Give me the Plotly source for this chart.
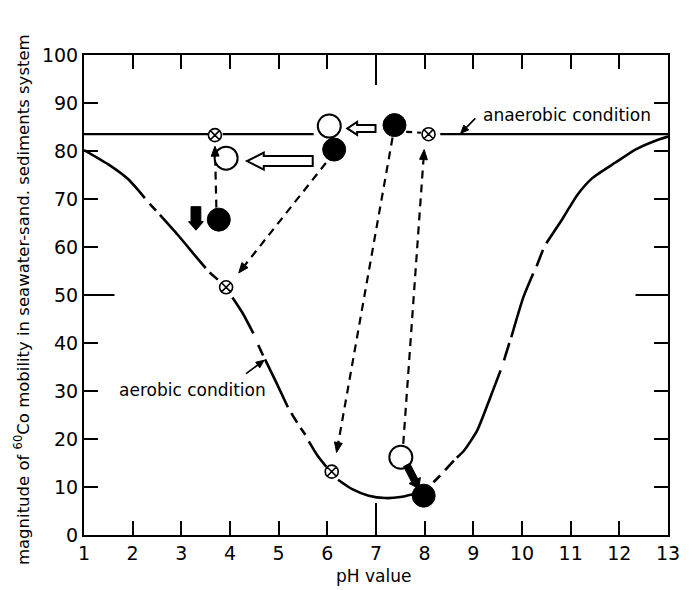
import plotly.graph_objects as go
import math

# ---------------- data ----------------
x_ticks = list(range(1, 14))
y_ticks = list(range(0, 101, 10))
long_tick_x = 7
long_tick_y = 50

# aerobic condition curve (None = break in the hand-drawn line)
aer_ph = [1.0, 1.5, 1.91, 2.25, None,
          2.35, 2.48, None,
          2.56, 2.93, 3.3, 3.5, None,
          3.58, 3.75, None,
          4.05, 4.25, 4.48, None,
          4.58, 4.68, None,
          4.72, 4.96, 5.19, None,
          5.26, 5.38, None,
          5.45, 5.55, None,
          5.62, 5.80, 5.98, None,
          6.22, 6.5, 6.85, 7.19, 7.5, 7.76, None,
          8.18, 8.32, None,
          8.42, 8.6, None,
          8.66, 8.81, 9.08, 9.35, 9.56, None,
          9.63, 9.74, None,
          9.78, 10.03, 10.23, None,
          10.3, 10.43, None,
          10.5, 10.84, 11.14, 11.45, 11.92, 12.33, 12.73, 13.0]
aer_v = [80.2, 77.2, 74.1, 70.2, None,
         69.0, 67.6, None,
         66.7, 62.5, 58.0, 55.6, None,
         54.7, 53.2, None,
         49.5, 46.4, 42.0, None,
         39.6, 37.4, None,
         36.6, 31.6, 26.6, None,
         25.4, 23.4, None,
         22.3, 20.9, None,
         19.5, 16.5, 14.2, None,
         11.5, 9.6, 8.2, 7.7, 7.9, 8.5, None,
         11.0, 12.4, None,
         13.5, 15.5, None,
         16.1, 17.6, 21.8, 28.7, 34.3, None,
         36.4, 40.0, None,
         41.2, 49.6, 54.5, None,
         56.0, 59.4, None,
         60.8, 66.0, 70.9, 74.4, 77.6, 80.3, 82.1, 83.0]

# anaerobic condition line
anaer_ph = [1.0, 3.55, None, 3.85, 5.72, None, 8.32, 13.0]
anaer_v = [83.5, 83.5, None, 83.5, 83.5, None, 83.5, 83.5]
anaer_dash_ph = [7.62, 7.93]
anaer_dash_v = [84.0, 83.8]

# symbols
open_ph = [3.92, 6.04, 7.51]
open_v = [78.5, 85.2, 16.2]
filled_ph = [3.77, 6.14, 7.38, 7.98]
filled_v = [65.7, 80.3, 85.4, 8.2]
cross_ph = [3.69, 3.92, 8.08, 6.09]
cross_v = [83.3, 51.6, 83.5, 13.2]

# dashed arrows (start -> arrow tip)
dash_from_ph = [3.72, 5.97, 7.34, 7.56]
dash_from_v = [68.2, 77.5, 82.8, 19.0]
dash_to_ph = [3.69, 4.18, 6.19, 7.99]
dash_to_v = [81.0, 54.6, 17.2, 80.3]

# hollow block arrows (tail -> tip)
hollow_tail_ph = [5.70, 6.99]
hollow_tail_v = [77.9, 84.7]
hollow_tip_ph = [4.35, 6.41]
hollow_tip_v = [77.9, 84.7]

# solid black arrows (tail -> tip)
black_tail_ph = [3.30, 7.63]
black_tail_v = [68.4, 14.6]
black_tip_ph = [3.30, 7.88]
black_tip_v = [63.5, 9.7]

# labels and their leader arrows (tail -> tip)
label_text = ["aerobic condition", "anaerobic condition"]
label_ph = [3.23, 10.92]
label_v = [30.2, 87.6]
leader_tail_ph = [4.33, 9.04]
leader_tail_v = [33.6, 86.8]
leader_tip_ph = [4.70, 8.74]
leader_tip_v = [36.4, 83.7]

# ---------------- layout geometry ----------------
W, H = 692, 590
ML, MR, MT, MB = 84, 14, 55, 55
PW, PH = W - ML - MR, H - MT - MB
XR = (1, 13)
YR = (0, 100)
SX = PW / (XR[1] - XR[0])   # px per pH unit
SY = PH / (YR[1] - YR[0])   # px per y unit
FONT = "DejaVu Sans"


def to_pix(x, y):
    return x * SX, y * SY


def to_data(X, Y):
    return X / SX, Y / SY


def block_arrow_path(tail, tip, shaft_w, head_w, head_len):
    tx, ty = to_pix(*tail)
    hx, hy = to_pix(*tip)
    dx, dy = hx - tx, hy - ty
    L = math.hypot(dx, dy)
    ux, uy = dx / L, dy / L
    nx, ny = -uy, ux
    bx, by = hx - ux * head_len, hy - uy * head_len
    pts = [
        (tx + nx * shaft_w / 2, ty + ny * shaft_w / 2),
        (bx + nx * shaft_w / 2, by + ny * shaft_w / 2),
        (bx + nx * head_w / 2, by + ny * head_w / 2),
        (hx, hy),
        (bx - nx * head_w / 2, by - ny * head_w / 2),
        (bx - nx * shaft_w / 2, by - ny * shaft_w / 2),
        (tx - nx * shaft_w / 2, ty - ny * shaft_w / 2),
    ]
    d = [to_data(*p) for p in pts]
    return "M " + " L ".join(f"{a:.4f},{b:.4f}" for a, b in d) + " Z"


def head_path(tail, tip, head_w, head_len):
    tx, ty = to_pix(*tail)
    hx, hy = to_pix(*tip)
    dx, dy = hx - tx, hy - ty
    L = math.hypot(dx, dy)
    ux, uy = dx / L, dy / L
    nx, ny = -uy, ux
    bx, by = hx - ux * head_len, hy - uy * head_len
    pts = [(hx, hy), (bx + nx * head_w / 2, by + ny * head_w / 2),
           (bx - nx * head_w / 2, by - ny * head_w / 2)]
    d = [to_data(*p) for p in pts]
    base = to_data(bx, by)
    return "M " + " L ".join(f"{a:.4f},{b:.4f}" for a, b in d) + " Z", base


fig = go.Figure()
shapes = []

# aerobic curve
fig.add_trace(go.Scatter(x=aer_ph, y=aer_v, mode="lines", connectgaps=False,
                         line=dict(color="black", width=2.6, shape="spline", smoothing=0.6),
                         hoverinfo="skip", showlegend=False))
# anaerobic line
fig.add_trace(go.Scatter(x=anaer_ph, y=anaer_v, mode="lines", connectgaps=False,
                         line=dict(color="black", width=2.2),
                         hoverinfo="skip", showlegend=False))
fig.add_trace(go.Scatter(x=anaer_dash_ph, y=anaer_dash_v, mode="lines",
                         line=dict(color="black", width=2.2, dash="6px,5px"),
                         hoverinfo="skip", showlegend=False))

# dashed arrows
HEAD_LEN, HEAD_W = 10, 8
for x0, y0, x1, y1 in zip(dash_from_ph, dash_from_v, dash_to_ph, dash_to_v):
    p, base = head_path((x0, y0), (x1, y1), HEAD_W, HEAD_LEN)
    fig.add_trace(go.Scatter(x=[x0, base[0]], y=[y0, base[1]], mode="lines",
                             line=dict(color="black", width=2.2, dash="8px,6px"),
                             hoverinfo="skip", showlegend=False))
    shapes.append(dict(type="path", path=p, xref="x", yref="y",
                       fillcolor="black", line=dict(color="black", width=1)))

# label leader arrows (thin solid)
for x0, y0, x1, y1 in zip(leader_tail_ph, leader_tail_v, leader_tip_ph, leader_tip_v):
    p, base = head_path((x0, y0), (x1, y1), 7, 8)
    fig.add_trace(go.Scatter(x=[x0, base[0]], y=[y0, base[1]], mode="lines",
                             line=dict(color="black", width=1.6),
                             hoverinfo="skip", showlegend=False))
    shapes.append(dict(type="path", path=p, xref="x", yref="y",
                       fillcolor="black", line=dict(color="black", width=1)))

# hollow block arrows
for i, (sw, hw, hl) in enumerate([(10, 17, 17), (7, 13, 10)]):
    p = block_arrow_path((hollow_tail_ph[i], hollow_tail_v[i]),
                         (hollow_tip_ph[i], hollow_tip_v[i]), sw, hw, hl)
    shapes.append(dict(type="path", path=p, xref="x", yref="y",
                       fillcolor="white", line=dict(color="black", width=2)))

# solid black arrows
for i, (sw, hw, hl) in enumerate([(10, 15, 8.5), (7, 13, 9)]):
    p = block_arrow_path((black_tail_ph[i], black_tail_v[i]),
                         (black_tip_ph[i], black_tip_v[i]), sw, hw, hl)
    shapes.append(dict(type="path", path=p, xref="x", yref="y",
                       fillcolor="black", line=dict(color="black", width=1)))

# symbols
fig.add_trace(go.Scatter(x=open_ph, y=open_v, mode="markers",
                         marker=dict(symbol="circle", size=23, color="white",
                                     line=dict(color="black", width=2)),
                         hoverinfo="skip", showlegend=False))
fig.add_trace(go.Scatter(x=filled_ph, y=filled_v, mode="markers",
                         marker=dict(symbol="circle", size=23, color="black",
                                     line=dict(color="black", width=1)),
                         hoverinfo="skip", showlegend=False))
fig.add_trace(go.Scatter(x=cross_ph, y=cross_v, mode="markers",
                         marker=dict(symbol="circle-x", size=13, color="white",
                                     line=dict(color="black", width=1.6)),
                         hoverinfo="skip", showlegend=False))

# long ticks at pH 7 and y = 50 (bottom/top, left/right)
shapes += [
    dict(type="line", xref="x", yref="y domain", x0=long_tick_x, x1=long_tick_x,
         y0=0, y1=32 / PH, line=dict(color="black", width=2)),
    dict(type="line", xref="x", yref="y domain", x0=long_tick_x, x1=long_tick_x,
         y0=1, y1=1 - 30 / PH, line=dict(color="black", width=2)),
    dict(type="line", xref="x domain", yref="y", x0=0, x1=31 / PW,
         y0=long_tick_y, y1=long_tick_y, line=dict(color="black", width=2)),
    dict(type="line", xref="x domain", yref="y", x0=1, x1=1 - 33 / PW,
         y0=long_tick_y, y1=long_tick_y, line=dict(color="black", width=2)),
]

annotations = [
    dict(x=lx, y=ly, xref="x", yref="y", text=t, showarrow=False,
         font=dict(family=FONT, size=17, color="black"))
    for t, lx, ly in zip(label_text, label_ph, label_v)
]
annotations += [
    dict(x=(21 - ML) / PW, y=(H - MB - 300) / PH, xref="paper", yref="paper",
         text="magnitude of <sup>60</sup>Co mobility in seawater-sand. sediments system",
         textangle=-90, showarrow=False, xanchor="center", yanchor="middle",
         font=dict(family=FONT, size=16.5, color="black")),
    dict(x=(378 - ML) / PW, y=-(576 - (H - MB)) / PH, xref="paper", yref="paper",
         text="pH value", showarrow=False, xanchor="center", yanchor="middle",
         font=dict(family=FONT, size=17, color="black")),
]

axis_common = dict(showline=True, linecolor="black", linewidth=2, mirror="allticks",
                   ticks="inside", ticklen=14, tickwidth=2, tickcolor="black",
                   showgrid=False, zeroline=False,
                   tickfont=dict(family=FONT, size=19, color="black"))

fig.update_layout(
    width=W, height=H, margin=dict(l=ML, r=MR, t=MT, b=MB),
    paper_bgcolor="white", plot_bgcolor="white",
    xaxis=dict(range=list(XR), tickvals=x_ticks, ticktext=[str(v) for v in x_ticks],
               **axis_common),
    yaxis=dict(range=list(YR), tickvals=y_ticks, ticktext=[str(v) for v in y_ticks],
               **axis_common),
    shapes=shapes, annotations=annotations, showlegend=False,
)

fig.write_html("out.html")
